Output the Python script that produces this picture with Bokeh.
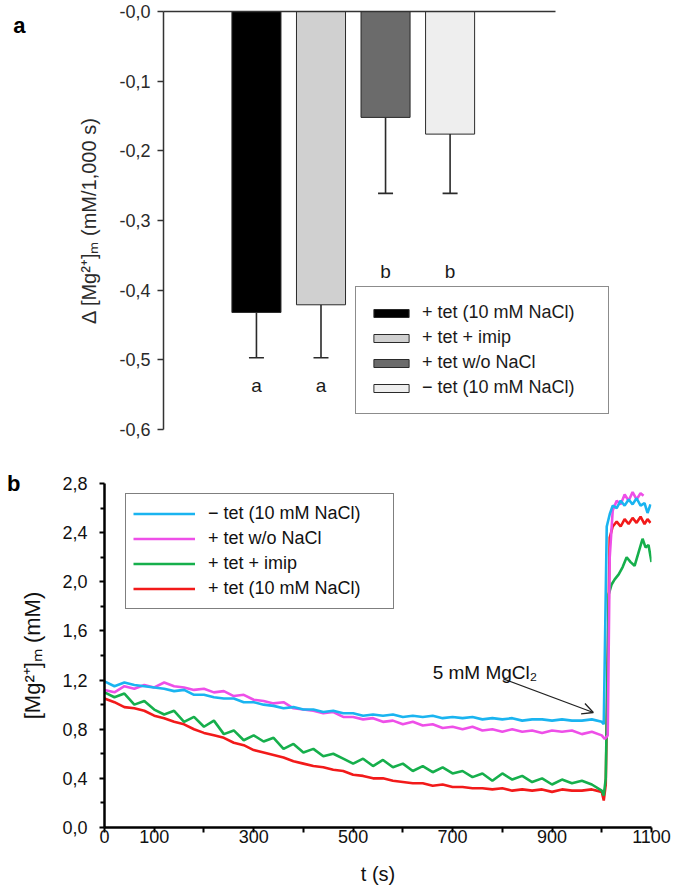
from bokeh.plotting import figure
from bokeh.models import (ColumnDataSource, Legend, LegendItem, Whisker, TeeHead,
                          Label, Arrow, OpenHead, FixedTicker, LinearAxis, Range1d)
from bokeh.embed import file_html
from bokeh.resources import INLINE
from bokeh.core.properties import value

FONT = "Liberation Sans"

# ---------------- Panel a data ----------------
groups = ["+ tet (10 mM NaCl)", "+ tet + imip", "+ tet w/o NaCl", "\u2212 tet (10 mM NaCl)"]
delta_mg = [-0.432, -0.421, -0.152, -0.176]
delta_err = [0.065, 0.076, 0.109, 0.085]
sig_letters = ["a", "a", "b", "b"]
sig_letter_y = [-0.537, -0.537, -0.373, -0.373]
bar_colors = ["#000000", "#D0D0D0", "#6B6B6B", "#EEEEEE"]
a_ticks = [0.0, -0.1, -0.2, -0.3, -0.4, -0.5, -0.6]
a_tick_labels = ["-0,0", "-0,1", "-0,2", "-0,3", "-0,4", "-0,5", "-0,6"]

# ---------------- Panel b data ----------------
time_base = [0, 20, 40, 60, 80, 100, 120, 140, 160, 180, 200, 220, 240, 260, 280, 300,
             320, 340, 360, 380, 400, 420, 440, 460, 480, 500, 520, 540, 560, 580, 600,
             620, 640, 660, 680, 700, 720, 740, 760, 780, 800, 820, 840, 860, 880, 900,
             920, 940, 960, 980, 1000]

cyan_t = time_base + [1004, 1010, 1016, 1022, 1030, 1038, 1046, 1054, 1062, 1070, 1078, 1086, 1092, 1098]
cyan_v = [1.19, 1.15, 1.18, 1.16, 1.15, 1.14, 1.13, 1.11, 1.12, 1.08, 1.08, 1.06, 1.05, 1.05,
          1.02, 1.02, 1.00, 0.99, 0.97, 0.98, 0.96, 0.96, 0.94, 0.95, 0.93, 0.93, 0.91, 0.92,
          0.91, 0.92, 0.90, 0.91, 0.90, 0.91, 0.89, 0.90, 0.89, 0.90, 0.88, 0.89, 0.88, 0.89,
          0.87, 0.88, 0.88, 0.87, 0.88, 0.87, 0.87, 0.88, 0.86,
          0.84, 2.45, 2.55, 2.62, 2.60, 2.66, 2.62, 2.67, 2.63, 2.68, 2.62, 2.64, 2.56, 2.63]

magenta_t = time_base + [1006, 1012, 1016, 1022, 1030, 1038, 1046, 1054, 1062, 1070, 1078, 1084]
magenta_v = [1.12, 1.10, 1.15, 1.13, 1.16, 1.14, 1.18, 1.15, 1.14, 1.12, 1.13, 1.10, 1.11, 1.07,
             1.08, 1.04, 1.03, 1.01, 1.02, 0.97, 0.96, 0.95, 0.93, 0.94, 0.90, 0.90, 0.88, 0.89,
             0.86, 0.87, 0.84, 0.86, 0.83, 0.84, 0.81, 0.82, 0.80, 0.82, 0.79, 0.80, 0.78, 0.80,
             0.78, 0.79, 0.77, 0.79, 0.78, 0.79, 0.76, 0.78, 0.75,
             0.72, 0.75, 2.20, 2.58, 2.66, 2.63, 2.71, 2.66, 2.73, 2.67, 2.72, 2.70]

green_t = time_base + [1004, 1008, 1014, 1020, 1026, 1034, 1042, 1050, 1058, 1066, 1074, 1082, 1088, 1094, 1100]
green_v = [1.10, 1.06, 1.09, 1.00, 1.03, 0.96, 0.92, 0.95, 0.86, 0.90, 0.82, 0.87, 0.76, 0.79,
           0.71, 0.75, 0.70, 0.73, 0.64, 0.68, 0.61, 0.64, 0.58, 0.60, 0.56, 0.52, 0.56, 0.50,
           0.55, 0.49, 0.52, 0.46, 0.50, 0.45, 0.49, 0.44, 0.46, 0.41, 0.44, 0.38, 0.44, 0.39,
           0.42, 0.37, 0.40, 0.35, 0.39, 0.36, 0.38, 0.35, 0.30,
           0.26, 0.40, 1.90, 1.98, 2.02, 2.06, 2.12, 2.20, 2.16, 2.13, 2.24, 2.35, 2.28, 2.30, 2.16]

red_t = time_base + [1004, 1008, 1016, 1022, 1030, 1038, 1046, 1054, 1062, 1070, 1078, 1086, 1092, 1098]
red_v = [1.05, 1.02, 0.98, 0.97, 0.95, 0.91, 0.89, 0.86, 0.84, 0.80, 0.77, 0.75, 0.73, 0.69,
         0.67, 0.63, 0.61, 0.59, 0.57, 0.54, 0.52, 0.50, 0.49, 0.47, 0.46, 0.43, 0.42, 0.40,
         0.40, 0.38, 0.37, 0.36, 0.36, 0.34, 0.35, 0.33, 0.33, 0.32, 0.32, 0.31, 0.32, 0.30,
         0.31, 0.30, 0.31, 0.29, 0.31, 0.30, 0.30, 0.31, 0.29,
         0.22, 0.35, 2.36, 2.45, 2.49, 2.45, 2.51, 2.47, 2.52, 2.48, 2.53, 2.47, 2.51, 2.48]

series_labels = ["\u2212 tet (10 mM NaCl)", "+ tet w/o NaCl", "+ tet + imip", "+ tet (10 mM NaCl)"]
series_colors = ["#1AB4F0", "#EE4FE8", "#16AF4C", "#F21A1A"]

b_ticks = [0.0, 0.4, 0.8, 1.2, 1.6, 2.0, 2.4, 2.8]
b_minor = [0.2, 0.6, 1.0, 1.4, 1.8, 2.2, 2.6]
t_ticks = [0, 100, 200, 300, 400, 500, 600, 700, 800, 900, 1000, 1100]
t_labelled = [0, 100, 300, 500, 700, 900, 1100]

arrow_from = (802, 1.21)
arrow_to = (983, 0.936)
arrow_text_pos = (660, 1.26)

W = 673

# ================= Panel a =================
n = len(delta_mg)
idx = [i + 1 for i in range(n)]
pa = figure(width=W, height=463, output_backend="svg", toolbar_location=None,
            x_range=Range1d(-0.44, 6.64), y_range=Range1d(-0.6, 0.0),
            x_axis_location=None, y_axis_location=None,
            min_border_left=163, min_border_right=53, min_border_top=11, min_border_bottom=34)
pa.outline_line_color = None
pa.xgrid.visible = False
pa.ygrid.visible = False

src_a = ColumnDataSource(dict(x=idx, val=delta_mg, low=[v - e for v, e in zip(delta_mg, delta_err)],
                              color=bar_colors, lab=sig_letters, ly=sig_letter_y))
bars = pa.vbar(x="x", top=0, bottom="val", width=0.76, fill_color="color",
               line_color="#2A2A2A", line_width=1, source=src_a)
wh = Whisker(source=src_a, base="x", upper="val", lower="low", dimension="height",
             line_color="#2A2A2A", line_width=1.6, upper_head=None,
             lower_head=TeeHead(size=15, line_color="#2A2A2A", line_width=1.6))
pa.add_layout(wh)
pa.text(x="x", y="ly", text="lab", source=src_a, text_align="center", text_baseline="middle",
        text_font=value(FONT), text_font_size="19px", text_color="#1A1A1A")

ya = LinearAxis(ticker=FixedTicker(ticks=a_ticks),
                major_label_overrides={t: l for t, l in zip(a_ticks, a_tick_labels)},
                axis_label="\u0394 [Mg\u00b2\u207a]\u2098 (mM/1,000 s)")
ya.axis_line_color = "#333333"
ya.axis_line_width = 1.5
ya.major_tick_line_color = "#333333"
ya.major_tick_line_width = 1.5
ya.major_tick_out = 6
ya.major_tick_in = 0
ya.minor_tick_line_color = None
ya.major_label_text_font = FONT
ya.major_label_text_font_size = "18px"
ya.major_label_text_color = "#2A2A2A"
ya.major_label_standoff = 7
ya.axis_label_text_font = FONT
ya.axis_label_text_font_size = "20px"
ya.axis_label_text_font_style = "normal"
ya.axis_label_text_color = "#2A2A2A"
ya.axis_label_standoff = 16
pa.add_layout(ya, "left")

# panel letter "a" drawn as the only tick label of an outer, line-less axis
panel_a_at = -0.02
lab_a = LinearAxis(ticker=FixedTicker(ticks=[panel_a_at]), major_label_overrides={panel_a_at: "a"})
lab_a.axis_line_color = None
lab_a.major_tick_line_color = None
lab_a.minor_tick_line_color = None
lab_a.major_label_text_font = FONT
lab_a.major_label_text_font_size = "22px"
lab_a.major_label_text_font_style = "bold"
lab_a.major_label_text_color = "#000000"
lab_a.major_label_standoff = 44
pa.add_layout(lab_a, "left")

xa = LinearAxis(ticker=FixedTicker(ticks=[]), bounds=(-0.44, 5.64))
xa.axis_line_color = "#333333"
xa.axis_line_width = 1.5
xa.major_tick_out = 0
xa.major_tick_in = 0
xa.minor_tick_line_color = None
xa.major_label_standoff = 0
pa.add_layout(xa, "above")

leg_a = Legend(items=[LegendItem(label=groups[i], renderers=[bars], index=i) for i in range(n)],
               location=(192, 15))
leg_a.border_line_color = "#1A1A1A"
leg_a.border_line_width = 1.5
leg_a.padding = 13
leg_a.spacing = 0
leg_a.glyph_width = 44
leg_a.glyph_height = 10
leg_a.label_height = 25
leg_a.label_width = 173
leg_a.label_standoff = 9
leg_a.label_text_font = FONT
leg_a.label_text_font_size = "18px"
leg_a.label_text_color = "#1A1A1A"
leg_a.background_fill_alpha = 1
pa.add_layout(leg_a)

# ================= Panel b =================
pb = figure(width=W, height=426, output_backend="svg", toolbar_location=None,
            x_range=Range1d(0, 1100), y_range=Range1d(0, 2.8),
            x_axis_location=None, y_axis_location=None,
            min_border_left=104, min_border_right=22, min_border_top=20, min_border_bottom=62)
pb.outline_line_color = None
pb.xgrid.visible = False
pb.ygrid.visible = False

series = [(cyan_t, cyan_v), (magenta_t, magenta_v), (green_t, green_v), (red_t, red_v)]
renders = {}
for k in [3, 2, 1, 0]:
    t, v = series[k]
    renders[k] = pb.line(t, v, line_color=series_colors[k], line_width=2.6)

yb = LinearAxis(ticker=FixedTicker(ticks=b_ticks, minor_ticks=b_minor),
                major_label_overrides={t: f"{t:.1f}".replace(".", ",") for t in b_ticks},
                axis_label="[Mg\u00b2\u207a]\u2098 (mM)")
xb = LinearAxis(ticker=FixedTicker(ticks=t_ticks),
                major_label_overrides={t: (str(t) if t in t_labelled else "") for t in t_ticks},
                axis_label="t (s)")
for ax in (yb, xb):
    ax.axis_line_color = "#000000"
    ax.axis_line_width = 2.5
    ax.major_tick_line_color = "#000000"
    ax.major_tick_line_width = 2
    ax.major_tick_out = 5
    ax.major_tick_in = 0
    ax.minor_tick_line_color = "#000000"
    ax.minor_tick_line_width = 2
    ax.minor_tick_out = 4
    ax.minor_tick_in = 0
    ax.major_label_text_font = FONT
    ax.major_label_text_font_size = "18px"
    ax.major_label_text_color = "#111111"
    ax.axis_label_text_font = FONT
    ax.axis_label_text_font_style = "normal"
    ax.axis_label_text_color = "#111111"
yb.axis_label_text_font_size = "22px"
xb.axis_label_text_font_size = "20px"
yb.major_label_standoff = 12
yb.axis_label_standoff = 14
xb.major_label_standoff = -3
xb.axis_label_standoff = 17
pb.add_layout(yb, "left")
pb.add_layout(xb, "below")

panel_b_at = 2.8
lab_b = LinearAxis(ticker=FixedTicker(ticks=[panel_b_at]), major_label_overrides={panel_b_at: "b"})
lab_b.axis_line_color = None
lab_b.major_tick_line_color = None
lab_b.minor_tick_line_color = None
lab_b.major_label_text_font = FONT
lab_b.major_label_text_font_size = "22px"
lab_b.major_label_text_font_style = "bold"
lab_b.major_label_text_color = "#000000"
lab_b.major_label_standoff = -9
pb.add_layout(lab_b, "left")

leg_b = Legend(items=[LegendItem(label=series_labels[k], renderers=[renders[k]]) for k in range(4)],
               location=(21, 218))
leg_b.border_line_color = "#000000"
leg_b.border_line_width = 1.5
leg_b.padding = 7
leg_b.spacing = 0
leg_b.glyph_width = 62
leg_b.glyph_height = 25
leg_b.label_height = 25
leg_b.label_width = 178
leg_b.label_standoff = 13
leg_b.label_text_font = FONT
leg_b.label_text_font_size = "18px"
leg_b.label_text_color = "#111111"
pb.add_layout(leg_b)

pb.add_layout(Arrow(x_start=arrow_from[0], y_start=arrow_from[1], x_end=arrow_to[0], y_end=arrow_to[1],
                    line_color="#222222", line_width=1.3,
                    end=OpenHead(size=11, line_color="#222222", line_width=1.3)))
pb.add_layout(Label(x=arrow_text_pos[0], y=arrow_text_pos[1], text="5 mM MgCl\u2082",
                    text_font=FONT, text_font_size="19px", text_color="#111111",
                    text_baseline="alphabetic"))

open("out.html", "w").write(file_html([pa, pb], INLINE))
